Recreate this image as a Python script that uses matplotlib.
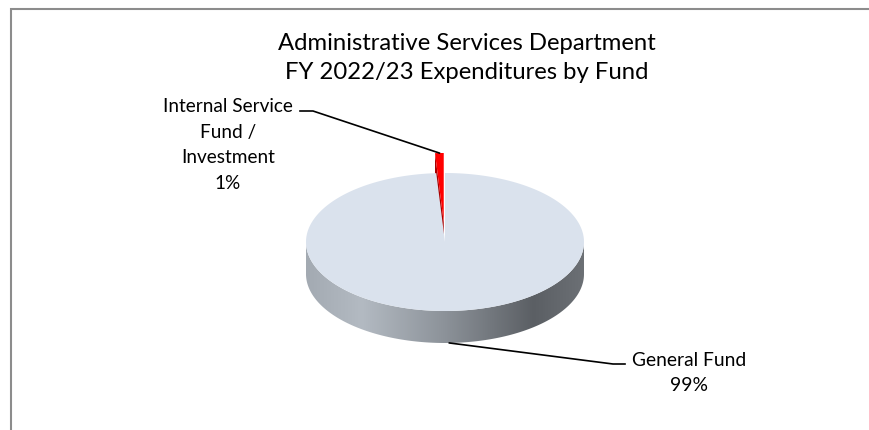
import numpy as np
import matplotlib.pyplot as plt
from matplotlib.patches import Polygon
from matplotlib.colors import LinearSegmentedColormap

plt.rcParams['font.family'] = ['Lato', 'DejaVu Sans']

# expenditures by fund (percent of total)
funds = ['General Fund', 'Internal Service\nFund /\nInvestment']
shares = [99, 1]
pct_labels = ['99%', '1%']
top_colors = ['#dae2ed', '#ff0000']
title = 'Administrative Services Department\nFY 2022/23 Expenditures by Fund'

fig = plt.figure(figsize=(8.69, 4.31), dpi=100)
ax = fig.add_axes([0, 0, 1, 1])

# pie geometry in pixel units (y grows downward)
cx, cy, rx, ry, depth = 445, 243, 139, 69, 32
explode = 0.29  # radial offset of the small slice, as fraction of radius


def rim(theta, off=(0, 0), drop=0):
    t = np.radians(theta)
    return (cx + off[0] + rx * np.cos(t), cy + off[1] - ry * np.sin(t) + drop)


def arc(t0, t1, off=(0, 0), drop=0, n=200):
    ts = np.radians(np.linspace(t0, t1, n))
    xs = cx + off[0] + rx * np.cos(ts)
    ys = cy + off[1] - ry * np.sin(ts) + drop
    return np.column_stack([xs, ys])


frac = np.array(shares) / sum(shares)
small_span = 360 * frac[1]
# small slice sits just left of 12 o'clock, general fund takes the rest
small_t0, small_t1 = 90, 90 + small_span
big_t0, big_t1 = small_t1, 450
small_mid = (small_t0 + small_t1) / 2
big_mid = (big_t0 + big_t1) / 2

m = np.radians(small_mid)
off = (explode * rx * np.cos(m), -explode * ry * np.sin(m))
c_small = (cx + off[0], cy + off[1])

# exploded red slice: cut wall then top face
wall = [c_small, rim(small_t1, off), rim(small_t1, off, depth), (c_small[0], c_small[1] + depth)]
ax.add_patch(Polygon(wall, closed=True, facecolor='#a80000', edgecolor='none', zorder=1))
red_top = np.vstack([[c_small], arc(small_t0, small_t1, off, n=20)])
ax.add_patch(Polygon(red_top, closed=True, facecolor=top_colors[1], edgecolor='none', zorder=2))

# side wall of the main slice with a left-to-right shading
side = np.vstack([arc(180, 360), arc(360, 180, drop=depth)])
side_patch = Polygon(side, closed=True, facecolor='none', edgecolor='none', zorder=3)
ax.add_patch(side_patch)
shade = LinearSegmentedColormap.from_list(
    'side', [(0, '#a3aab2'), (0.2, '#b3bac2'), (0.5, '#8c9299'), (0.82, '#5b5f64'), (1, '#6c7075')])
grad = np.linspace(0, 1, 256).reshape(1, -1)
im = ax.imshow(grad, cmap=shade, extent=[cx - rx, cx + rx, cy + depth + ry, cy - ry],
               aspect='auto', zorder=3)
im.set_clip_path(side_patch)

# top face of the main slice
big_top = np.vstack([[(cx, cy)], arc(big_t0, big_t1, n=400)])
ax.add_patch(Polygon(big_top, closed=True, facecolor=top_colors[0], edgecolor='none', zorder=4))

# leader lines and labels
p_small = rim(small_mid, off)
ax.plot([300, 313, p_small[0]], [112, 112, p_small[1]], color='black', lw=1.2, zorder=5)
ax.text(228, 145, funds[1] + '\n' + pct_labels[1], ha='center', va='center',
        fontsize=13.7, linespacing=1.62)

p_big = rim(big_mid, drop=depth)
ax.plot([p_big[0], 613, 625], [p_big[1], 365, 365], color='black', lw=1.2, zorder=5)
ax.text(689, 373, funds[0] + '\n' + pct_labels[0], ha='center', va='center',
        fontsize=13.9, linespacing=1.58)

ax.text(467, 58, title, ha='center', va='center', fontsize=17.2, linespacing=1.42)

# chart area border (top and left edges)
ax.plot([11, 11, 869], [431, 10, 10], color='#8c8c8c', lw=1.5, solid_joinstyle='miter')

ax.set_xlim(0, 869)
ax.set_ylim(431, 0)
ax.axis('off')

fig.savefig('out.png', dpi=100)
